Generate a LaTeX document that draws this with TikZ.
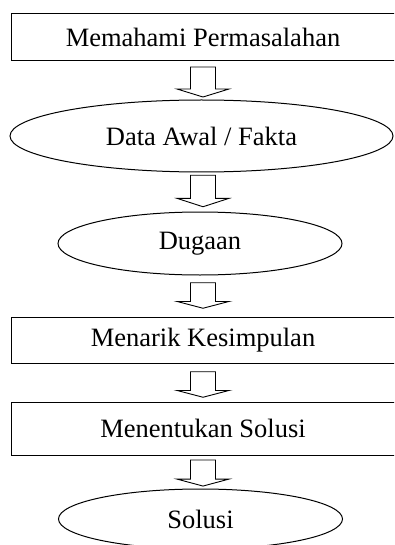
\documentclass[tikz,border=0pt]{standalone}
\usepackage{fontspec}
\setmainfont{Liberation Serif}
\usetikzlibrary{shapes.geometric,calc}
\tikzset{
  every node/.style={font=\fontsize{26.5}{30}\selectfont, inner sep=0pt},
  boxnode/.style={draw, line width=1pt, rectangle, minimum width=384pt},
  ovalnode/.style={draw, line width=1pt, ellipse},
  blockarrow/.pic={
    \draw[line width=0.9pt, line join=miter]
      (-12.5,-15) -- (12.5,-15) -- (12.5,7) -- (26,7) -- (0,15) -- (-26,7) -- (-12.5,7) -- cycle;
  }
}
\begin{document}
\begin{tikzpicture}[x=1pt,y=-1pt]
\path[use as bounding box, clip] (0,0) rectangle (394,545);
\node[boxnode, minimum height=47pt] (n1) at (203,37.5) {Memahami Permasalahan};
\node[ovalnode, minimum width=383pt, minimum height=72pt] (n2) at (201.5,136) {Data Awal / Fakta};
\node[ovalnode, minimum width=284pt, minimum height=63pt] (n3) at (200,243.5) {Dugaan};
\node[boxnode, minimum height=46pt] (n4) at (203,340) {Menarik Kesimpulan};
\node[boxnode, minimum height=53pt] (n5) at (203,428.5) {Menentukan Solusi};
\node[ovalnode, minimum width=284pt, minimum height=60pt] (n6) at (200.5,519) {Solusi};
\path (203,82) pic {blockarrow};
\path (203,191) pic[yscale=1.05] {blockarrow};
\path (203,295.5) pic[yscale=0.85] {blockarrow};
\path (203,384.5) pic[yscale=0.85] {blockarrow};
\path (203,473) pic[yscale=0.87] {blockarrow};
\end{tikzpicture}
\end{document}
